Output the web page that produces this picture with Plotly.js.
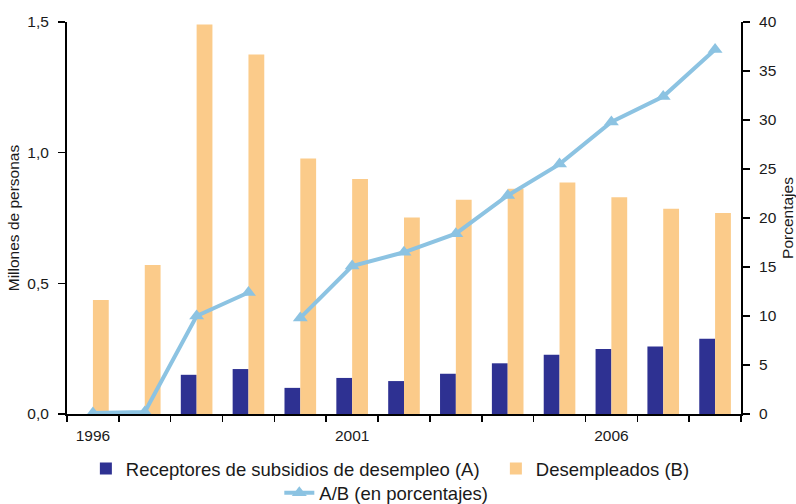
<!DOCTYPE html>
<html>
<head>
<meta charset="utf-8">
<script src="https://cdn.plot.ly/plotly-3.0.1.min.js"></script>
<style>html,body{margin:0;padding:0;background:#fff;}#chart{width:796px;height:504px;}</style>
</head>
<body>
<div id="chart"></div>
<script>
const years = ['1996','1997','1998','1999','2000','2001','2002','2003','2004','2005','2006','2007','2008'];
const tickLabels = ['1996','','','','','2001','','','','','2006','',''];
const receptoresA = [null, null, 0.150, 0.172, 0.100, 0.138, 0.126, 0.154, 0.194, 0.227, 0.249, 0.258, 0.288];
const desempleadosB = [0.436, 0.570, 1.490, 1.376, 0.978, 0.899, 0.752, 0.820, 0.862, 0.886, 0.829, 0.785, 0.769];
const ratioYears1 = ['1996','1997','1998','1999'];
const ratio1 = [0.1, 0.2, 10.0, 12.4];
const ratioYears2 = ['2000','2001','2002','2003','2004','2005','2006','2007','2008'];
const ratio2 = [9.8, 15.1, 16.5, 18.4, 22.3, 25.5, 29.8, 32.4, 37.2];

const lineColor = '#8cc3e2';
const fam = 'Liberation Sans, Arial, Helvetica, sans-serif';
const txt = '#1a1a1a';

const traces = [
  {type: 'bar', x: years, y: receptoresA, name: 'Receptores de subsidios de desempleo (A)',
   marker: {color: '#2e3192'}, yaxis: 'y', legend: 'legend', legendwidth: 365},
  {type: 'bar', x: years, y: desempleadosB, name: 'Desempleados (B)',
   marker: {color: '#fbcb8a'}, yaxis: 'y', legend: 'legend'},
  {type: 'scatter', mode: 'lines+markers', x: ratioYears1, y: ratio1, name: 'A/B (en porcentajes)',
   line: {color: lineColor, width: 4}, marker: {symbol: 'triangle-up', size: 13, color: lineColor},
   yaxis: 'y2', legendgroup: 'ab', legend: 'legend2'},
  {type: 'scatter', mode: 'lines+markers', x: ratioYears2, y: ratio2, name: 'A/B (en porcentajes)',
   line: {color: lineColor, width: 4}, marker: {symbol: 'triangle-up', size: 13, color: lineColor},
   yaxis: 'y2', legendgroup: 'ab', showlegend: false, legend: 'legend2'}
];

const axisCommon = {
  ticks: 'outside', ticklen: 7, tickwidth: 1.5, tickcolor: '#000',
  showline: true, linecolor: '#000', linewidth: 2, showgrid: false, zeroline: false,
  tickfont: {size: 15.5, family: fam, color: txt}, fixedrange: true
};

const layout = {
  width: 796, height: 504,
  margin: {l: 67, r: 55, t: 22, b: 90, autoexpand: false},
  paper_bgcolor: '#fff', plot_bgcolor: '#fff',
  font: {size: 15.5, family: fam, color: txt},
  separators: ',.',
  barmode: 'group', bargap: 0.39, bargroupgap: 0,
  showlegend: true,
  legend: {orientation: 'h', x: 0.028, xanchor: 'left', y: -0.14, yanchor: 'middle',
           bgcolor: 'rgba(0,0,0,0)', font: {size: 18.5, family: fam, color: txt}, traceorder: 'normal'},
  legend2: {orientation: 'h', x: 0.315, xanchor: 'left', y: -0.202, yanchor: 'middle',
           bgcolor: 'rgba(0,0,0,0)', font: {size: 18.5, family: fam, color: txt}},
  xaxis: Object.assign({}, axisCommon, {
          type: 'category', range: [-0.5, 12.5], tickvals: years, ticktext: tickLabels,
          tickson: 'boundaries', ticklen: 6, ticklabelstandoff: 6}),
  yaxis: Object.assign({}, axisCommon, {
          range: [0, 1.5], tickvals: [0, 0.5, 1.0, 1.5], tickformat: '.1f', ticklabelstandoff: 6,
          title: {text: 'Millones de personas', font: {size: 15.5, family: fam, color: txt}, standoff: 4}}),
  yaxis2: Object.assign({}, axisCommon, {
          range: [0, 40], dtick: 5, overlaying: 'y', side: 'right', ticklabelstandoff: 6,
          title: {text: 'Porcentajes', font: {size: 15.5, family: fam, color: txt}, standoff: 6}})
};

Plotly.newPlot('chart', traces, layout, {displayModeBar: false, staticPlot: true});
</script>
</body>
</html>
